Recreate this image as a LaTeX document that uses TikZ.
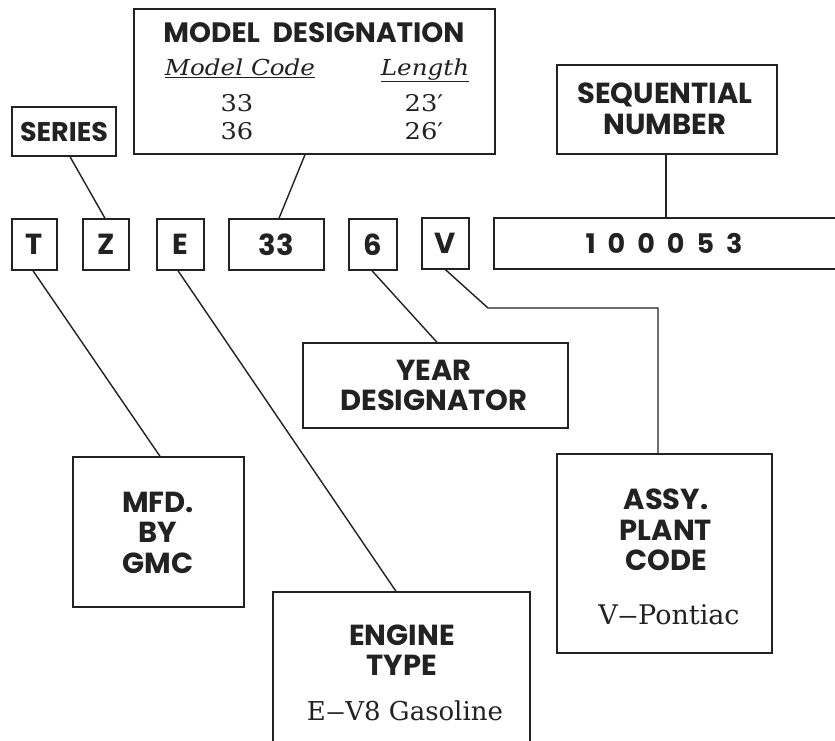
\documentclass[tikz,border=0pt]{standalone}
\usepackage{fontspec}
\setsansfont{Poppins}
\setmainfont{DejaVu Serif}
\newfontfamily\sertab[FakeStretch=1.12]{DejaVu Serif}
\newcommand\wdash{\scalebox{1.5}[1]{–}}
\usetikzlibrary{calc}
\definecolor{ink}{HTML}{222222}
\begin{document}
\begin{tikzpicture}[x=1pt,y=-1pt,
  box/.style={draw=ink, line width=1.4pt, inner sep=0pt, align=center, rectangle},
  lab/.style={font=\sffamily\bfseries\fontsize{29}{30.5}\selectfont, text=ink, align=center, inner sep=0pt},
  ser/.style={font=\rmfamily\fontsize{26}{30}\selectfont, text=ink, inner sep=0pt},
  tab/.style={font=\sertab\fontsize{23}{26}\selectfont, text=ink, inner sep=0pt},
  link/.style={draw=ink, line width=1.4pt}]
\useasboundingbox (0,0) rectangle (835,740);
\clip (0,0) rectangle (835,740);
\fill[white] (0,0) rectangle (835,740);

% model designation box
\node[box, minimum width=361pt, minimum height=145pt] (model) at (314.5,81.5) {};
\node[lab, font=\sffamily\bfseries\fontsize{28}{30}\selectfont] (modelT) at (314,33) {MODEL\hspace{0.45em}DESIGNATION};
\node[tab, font=\sertab\itshape\fontsize{22}{26}\selectfont, anchor=base] (mcode) at (240,75) {\underline{Model Code}};
\node[tab, font=\sertab\itshape\fontsize{22}{26}\selectfont, anchor=base] (mlen) at (425,75) {\underline{Length}};
\node[tab] (c33) at (237,103) {33};
\node[tab] (c36) at (237,131) {36};
\node[tab] (l23) at (424,103) {23′};
\node[tab] (l26) at (424,131) {26′};

% series
\node[box, lab, font=\sffamily\bfseries\fontsize{27}{30}\selectfont, minimum width=104pt, minimum height=49pt] (series) at (64,131.5) {SERIES};

% sequential number
\node[box, minimum width=220pt, minimum height=89pt] (seq) at (667,109.5) {};
\node[lab] (seqT) at (665,109) {SEQUENTIAL\\NUMBER};

% code row
\node[box, lab, minimum width=45pt, minimum height=51pt] (T) at (34.5,244.5) {T};
\node[box, lab, minimum width=46pt, minimum height=51pt] (Z) at (106,244.5) {Z};
\node[box, lab, minimum width=47pt, minimum height=51pt] (E) at (180.5,244.5) {E};
\node[box, lab, minimum width=95pt, minimum height=51pt] (n33) at (276.5,244.5) {33};
\node[box, lab, minimum width=48pt, minimum height=51pt] (six) at (373,244.5) {6};
\node[box, lab, minimum width=47pt, minimum height=51pt] (V) at (445.5,243.5) {V};
\node[box, minimum width=366pt, minimum height=51pt] (num) at (677,243.5) {};
\node[lab, font=\sffamily\bfseries\fontsize{27}{30}\selectfont] (numT) at (664,243.5) {1\hspace{12pt}0\hspace{12pt}0\hspace{12pt}0\hspace{12pt}5\hspace{12pt}3};

% year designator
\node[box, minimum width=265pt, minimum height=85pt] (year) at (435.5,385.5) {};
\node[lab] (yearT) at (434,385.5) {YEAR\\DESIGNATOR};

% mfd by gmc
\node[box, minimum width=171pt, minimum height=150pt] (mfd) at (158.5,532) {};
\node[lab] (mfdT) at (158,532.5) {MFD.\\BY\\GMC};

% engine type
\node[box, minimum width=257pt, minimum height=168pt] (eng) at (401.5,676) {};
\node[lab] (engT) at (402,650) {ENGINE\\TYPE};
\node[ser] (engS) at (405,711) {E\wdash V8 Gasoline};

% assembly plant code
\node[box, minimum width=215pt, minimum height=199pt] (assy) at (664.5,553.5) {};
\node[lab] (assyT) at (666,530) {ASSY.\\PLANT\\CODE};
\node[ser, font=\rmfamily\fontsize{27}{30}\selectfont] (assyS) at (669,615) {V\wdash Pontiac};

% connectors
\draw[link] ([xshift=6pt]series.south) -- ([xshift=-1pt]Z.north);
\draw[link] ([xshift=-9.5pt]model.south) -- ([xshift=2.5pt]n33.north);
\draw[link] ([xshift=-1pt]seq.south) -- ([xshift=-1pt]seq.south |- num.north);
\draw[link] ([xshift=-1.5pt]T.south) -- ([xshift=1.5pt]mfd.north);
\draw[link] ([xshift=-2.5pt]E.south) -- ([xshift=-5.5pt]eng.north);
\draw[link] ([xshift=-1pt]six.south) -- ([xshift=1.5pt]year.north);
\coordinate (vb) at (488,308);
\coordinate (at) at ([xshift=-6.5pt]assy.north);
\draw[link] (V.south) -- (vb) -- (vb -| at) -- (at);
\end{tikzpicture}
\end{document}
